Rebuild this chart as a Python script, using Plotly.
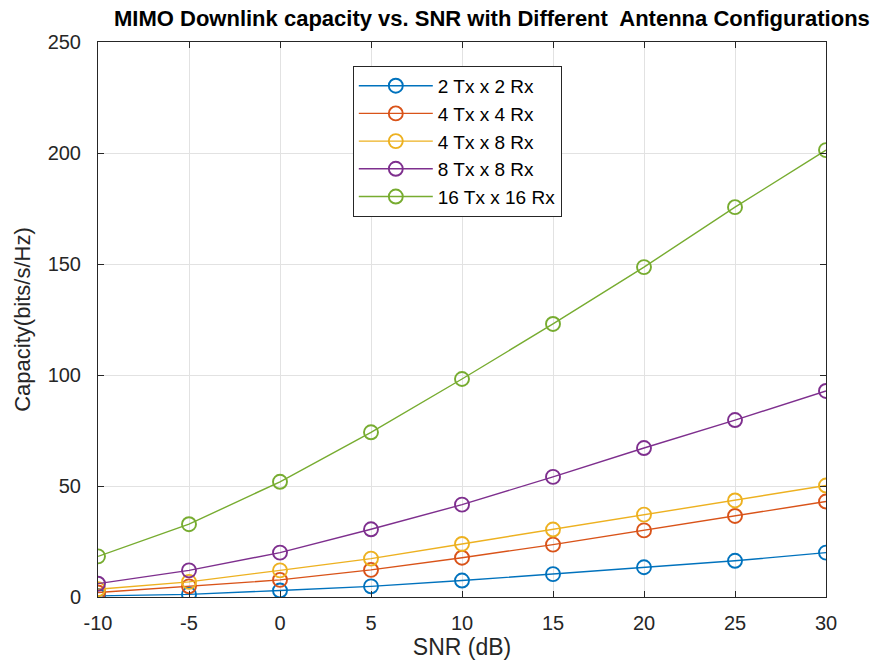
import plotly.graph_objects as go

snr = [-10, -5, 0, 5, 10, 15, 20, 25, 30]
snr_ticklabels = ["-10", "-5", "0", "5", "10", "15", "20", "25", "30"]
cap_ticks = [0, 50, 100, 150, 200, 250]
names = ["2 Tx x 2 Rx", "4 Tx x 4 Rx", "4 Tx x 8 Rx", "8 Tx x 8 Rx", "16 Tx x 16 Rx"]
cap_2x2 = [0.5, 1.2, 2.9, 4.8, 7.4, 10.3, 13.4, 16.3, 20.0]
cap_4x4 = [2.0, 4.8, 7.7, 12.2, 17.7, 23.6, 30.0, 36.5, 43.0]
cap_4x8 = [3.5, 6.8, 12.0, 17.3, 23.9, 30.4, 37.1, 43.5, 50.2]
cap_8x8 = [6.0, 12.0, 20.0, 30.5, 41.6, 54.1, 67.1, 79.7, 92.8]
cap_16x16 = [18.3, 32.8, 51.9, 74.2, 98.2, 123.0, 148.6, 175.6, 201.3]
series = [cap_2x2, cap_4x4, cap_4x8, cap_8x8, cap_16x16]
colors = ["#0072BD", "#D95319", "#EDB120", "#7E2F8E", "#77AC30"]

font = "Arial, Liberation Sans, sans-serif"
fig = go.Figure()
for n, ys, c in zip(names, series, colors):
    fig.add_trace(go.Scatter(
        x=snr, y=ys, name=n, mode="lines+markers",
        line=dict(color=c, width=1.4),
        marker=dict(symbol="circle-open", size=14, color=c, line=dict(width=1.9, color=c)),
    ))

axis_common = dict(
    showgrid=True, gridcolor="#E2E2E2", gridwidth=1,
    showline=True, linecolor="#262626", linewidth=1, mirror="ticks",
    ticks="inside", ticklen=6, tickcolor="#262626",
    tickfont=dict(family=font, size=20, color="#262626"),
    zeroline=False,
)
fig.update_layout(
    width=888, height=666,
    margin=dict(l=98, r=62, t=42, b=69),
    paper_bgcolor="white", plot_bgcolor="white",
    title=dict(text="<b>MIMO Downlink capacity vs. SNR with Different  Antenna Configurations</b>",
               x=0.554, xanchor="center", y=0.973, yanchor="middle",
               font=dict(family=font, size=22, color="black")),
    xaxis=dict(range=[-10, 30], tickvals=snr, ticktext=snr_ticklabels, ticklabelstandoff=8,
               title=dict(text="SNR (dB)", font=dict(family=font, size=23, color="#262626"), standoff=4),
               **axis_common),
    yaxis=dict(range=[0, 250], tickvals=cap_ticks, ticklabelstandoff=12,
               title=dict(text="Capacity(bits/s/Hz)", font=dict(family=font, size=22, color="#262626"), standoff=10),
               **axis_common),
    legend=dict(x=0.35, y=0.957, xanchor="left", yanchor="top",
                bgcolor="white", bordercolor="#262626", borderwidth=1,
                font=dict(family=font, size=19, color="black"),
                tracegroupgap=0, itemwidth=74),
    showlegend=True,
)
fig.write_html("out.html")
